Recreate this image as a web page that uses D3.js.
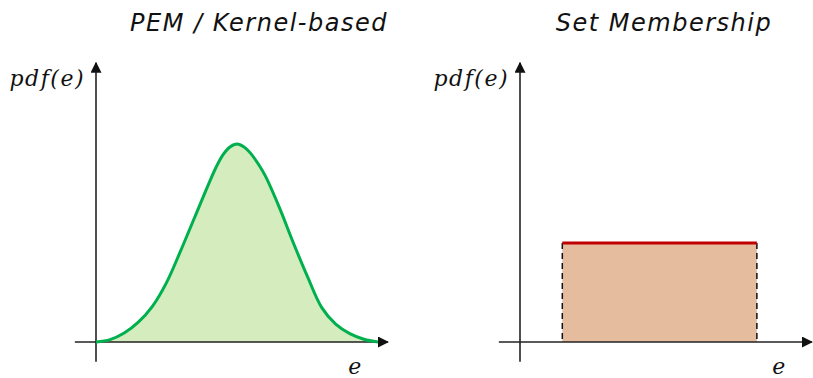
<!DOCTYPE html>
<html>
<head>
<meta charset="utf-8">
<script src="https://cdn.jsdelivr.net/npm/d3@7"></script>
<style>
  body { margin: 0; background: #fff; }
  .title { font-family: "DejaVu Sans", sans-serif; font-style: italic; font-size: 24px; letter-spacing: 1.5px; fill: #111; }
  .math { font-family: "DejaVu Serif", "Liberation Serif", serif; font-style: italic; font-size: 22px; letter-spacing: 1.5px; fill: #111; }
</style>
</head>
<body>
<svg id="chart" width="813" height="378"></svg>
<script>
// values (e in arbitrary units, pdf normalised to peak = 1)
const titles = ["PEM / Kernel-based", "Set Membership"];
const kernelE   = [0, 0.5, 1, 1.5, 2, 2.5, 3, 3.5, 4, 4.25, 4.5, 4.75, 5, 5.25, 5.5, 5.75, 6, 6.5, 7, 7.5, 8, 8.5, 9, 9.5, 10];
const kernelPdf = [0, 0.012, 0.045, 0.1, 0.18, 0.3, 0.46, 0.63, 0.8, 0.88, 0.945, 0.985, 1.0, 0.985, 0.95, 0.9, 0.84, 0.68, 0.5, 0.33, 0.175, 0.09, 0.042, 0.014, 0];
const setBounds = [1.5, 8.4];
const setPdf = 0.5;

const svg = d3.select("#chart");

const defs = svg.append("defs");
defs.append("marker")
    .attr("id", "arrow")
    .attr("viewBox", "0 0 10 10")
    .attr("refX", 9).attr("refY", 5)
    .attr("markerWidth", 11).attr("markerHeight", 11)
    .attr("markerUnits", "userSpaceOnUse")
    .attr("orient", "auto")
  .append("path")
    .attr("d", "M0,0 L10,5 L0,10 Z")
    .attr("fill", "#111");

const y = d3.scaleLinear().domain([0, 1]).range([342, 144]);

// one panel = origin x position + x scale
function panel(originX, title, titleX) {
    const x = d3.scaleLinear().domain([0, 10]).range([originX, originX + 282]);
    const g = svg.append("g");

    g.append("text").attr("class", "title")
        .attr("x", titleX).attr("y", 31)
        .attr("text-anchor", "middle")
        .text(title);

    g.append("text").attr("class", "math")
        .attr("x", originX - 11).attr("y", 86)
        .attr("text-anchor", "end")
        .text("pdf(e)");

    g.append("text").attr("class", "math")
        .attr("x", x(9.2)).attr("y", 374)
        .attr("text-anchor", "middle")
        .text("e");

    return {x, g};
}

function axes(p, xEnd) {
    p.g.append("line")
        .attr("x1", p.x(-0.75)).attr("x2", p.x(xEnd))
        .attr("y1", y(0)).attr("y2", y(0))
        .attr("stroke", "#222").attr("stroke-width", 1.6)
        .attr("marker-end", "url(#arrow)");
    p.g.append("line")
        .attr("x1", p.x(0)).attr("x2", p.x(0))
        .attr("y1", y(-0.1)).attr("y2", y(1.41))
        .attr("stroke", "#222").attr("stroke-width", 1.6)
        .attr("marker-end", "url(#arrow)");
}

// left: kernel density
const left = panel(96, titles[0], 259);
const kernel = kernelE.map((e, i) => ({e: e, p: kernelPdf[i]}));

left.g.append("path")
    .datum(kernel)
    .attr("fill", "#d4ecbe")
    .attr("d", d3.area().curve(d3.curveCatmullRom)
        .x(d => left.x(d.e)).y0(y(0)).y1(d => y(d.p)));

axes(left, 10.35);

left.g.append("path")
    .datum(kernel)
    .attr("fill", "none")
    .attr("stroke", "#00b04f")
    .attr("stroke-width", 3)
    .attr("d", d3.line().curve(d3.curveCatmullRom)
        .x(d => left.x(d.e)).y(d => y(d.p)));

// right: set membership (uniform)
const right = panel(520, titles[1], 664);

right.g.append("rect")
    .attr("x", right.x(setBounds[0]))
    .attr("y", y(setPdf))
    .attr("width", right.x(setBounds[1]) - right.x(setBounds[0]))
    .attr("height", y(0) - y(setPdf))
    .attr("fill", "#e5bc9e");

axes(right, 10.35);

right.g.selectAll(".bound")
    .data(setBounds)
    .enter().append("line")
    .attr("class", "bound")
    .attr("x1", d => right.x(d)).attr("x2", d => right.x(d))
    .attr("y1", y(setPdf)).attr("y2", y(0))
    .attr("stroke", "#111").attr("stroke-width", 1.5)
    .attr("stroke-dasharray", "6,4");

right.g.append("line")
    .attr("x1", right.x(setBounds[0])).attr("x2", right.x(setBounds[1]))
    .attr("y1", y(setPdf)).attr("y2", y(setPdf))
    .attr("stroke", "#c00000").attr("stroke-width", 3);
</script>
</body>
</html>
